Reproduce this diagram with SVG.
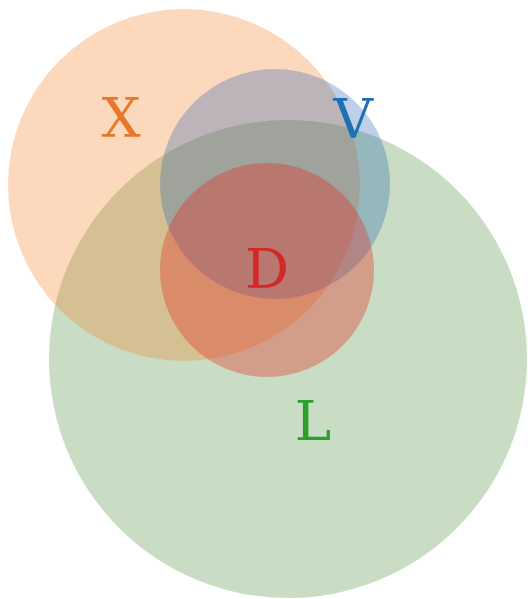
<svg xmlns="http://www.w3.org/2000/svg" width="528" height="599" viewBox="0 0 528 599">
<style>
.c{fill-opacity:0.3;stroke:none}
.t{font-family:"DejaVu Serif","Liberation Serif",serif;font-size:55px;text-anchor:middle}
</style>
<rect width="528" height="599" fill="#ffffff"/>
<g id="L"><circle class="c" cx="288" cy="359" r="239" fill="#488e3a"/></g>
<g id="X"><circle class="c" cx="184" cy="185" r="176" fill="#f57d20"/></g>
<g id="V"><circle class="c" cx="275" cy="184" r="115" fill="#285fb4"/></g>
<g id="D"><circle class="c" cx="267" cy="270" r="107" fill="#e6281e" style="fill-opacity:0.35"/></g>
<g id="labels">
<text class="t" x="121" y="137" fill="#e8772a">X</text>
<text class="t" x="353" y="138" fill="#1f6fb4">V</text>
<text class="t" x="267" y="288" fill="#d62728">D</text>
<text class="t" x="313" y="440" fill="#2ca02c">L</text>
</g>
</svg>
